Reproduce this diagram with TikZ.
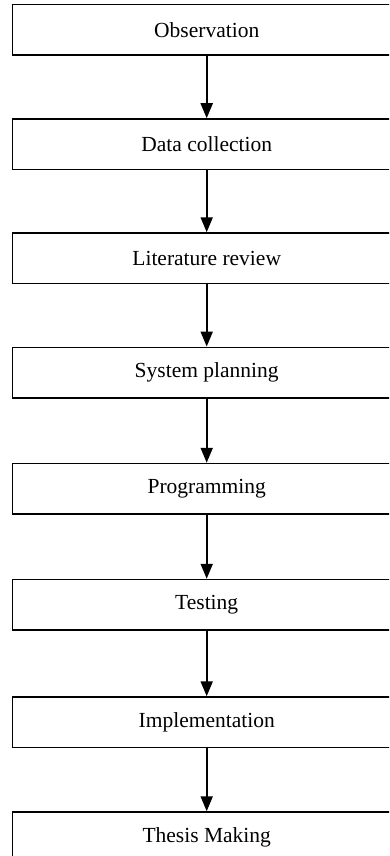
\documentclass[tikz,border=0pt]{standalone}
\usepackage{fontspec}
\setmainfont{Liberation Serif}
\usetikzlibrary{arrows.meta}
\begin{document}
\begin{tikzpicture}[x=1pt,y=-1pt,
  stepbox/.style={draw=black, line width=1.5pt, rectangle, minimum width=388pt, minimum height=50.5pt, inner sep=0pt, font=\fontsize{21.5}{24}\selectfont},
  flowarrow/.style={draw=black, line width=2pt, -{Triangle[width=12pt,length=15pt]}}]
\useasboundingbox (0,0) rectangle (389,856);
\clip (0,0) rectangle (389,856);
\node[stepbox] (b1) at (206.7,29.75) {Observation};
\node[stepbox] (b2) at (206.7,144.25) {Data collection};
\node[stepbox] (b3) at (206.7,258.25) {Literature review};
\node[stepbox] (b4) at (206.7,372.55) {System planning};
\node[stepbox] (b5) at (206.7,488.75) {Programming};
\node[stepbox] (b6) at (206.7,604.75) {Testing};
\node[stepbox] (b7) at (206.7,722.25) {Implementation};
\node[stepbox] (b8) at (206.7,837.25) {Thesis Making};
\foreach \a/\b in {b1/b2,b2/b3,b3/b4,b4/b5,b5/b6,b6/b7,b7/b8}
  \draw[flowarrow] (\a.south) -- (\b.north);
\end{tikzpicture}
\end{document}
